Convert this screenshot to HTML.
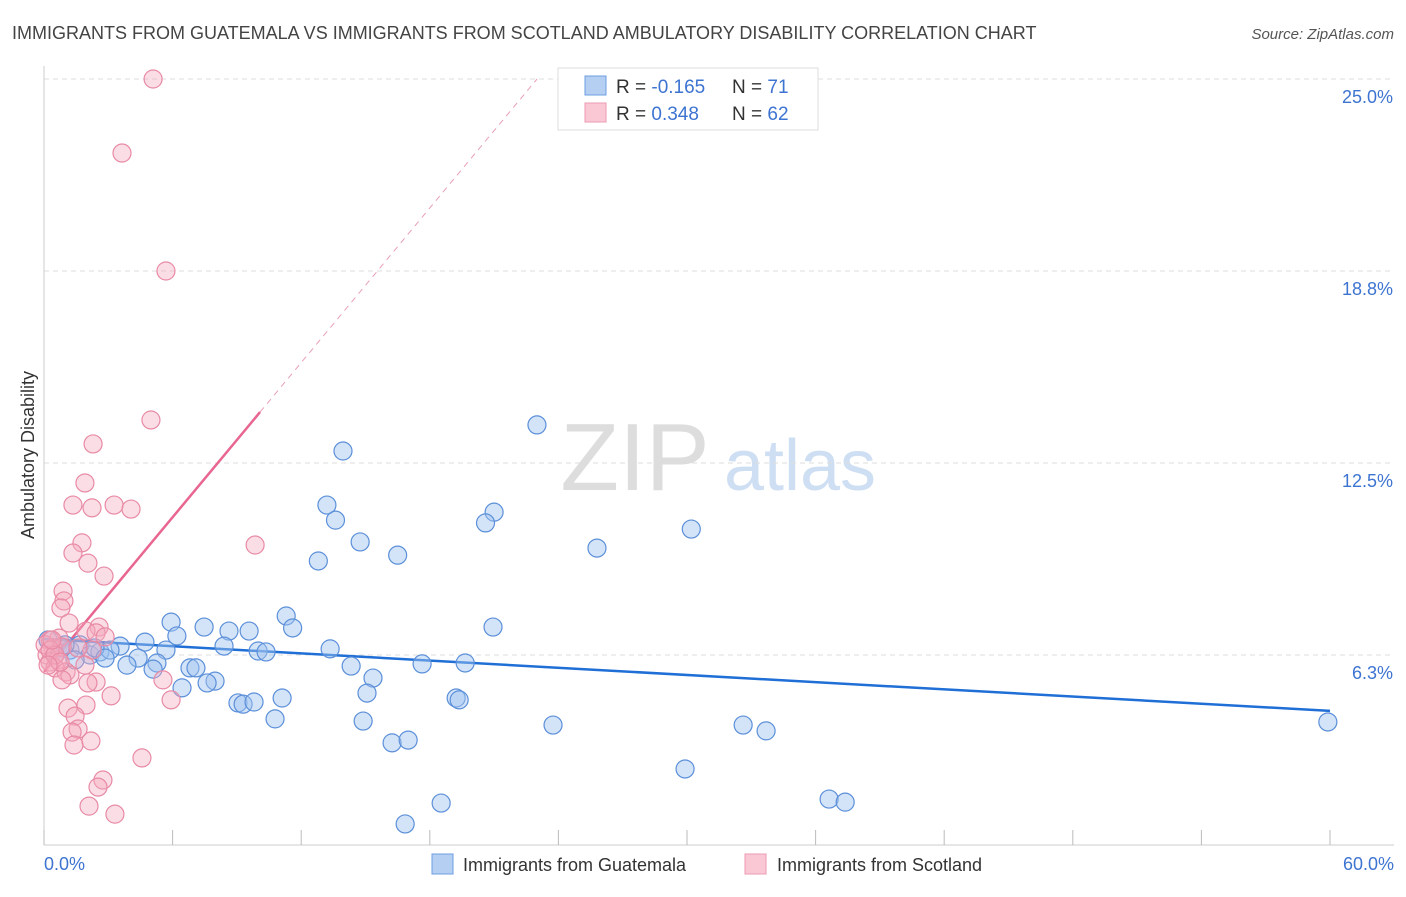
<!DOCTYPE html>
<html><head><meta charset="utf-8">
<style>
body{margin:0;background:#fff;font-family:"Liberation Sans",sans-serif;}
svg text{font-family:"Liberation Sans",sans-serif;}
</style></head>
<body>
<svg id="chart" width="1406" height="892" viewBox="0 0 1406 892">
<text x="12" y="39" font-size="18" fill="#444">IMMIGRANTS FROM GUATEMALA VS IMMIGRANTS FROM SCOTLAND AMBULATORY DISABILITY CORRELATION CHART</text>
<text x="1394" y="39" font-size="15" fill="#555" font-style="italic" text-anchor="end">Source: ZipAtlas.com</text>
<g>
<text x="635" y="490" font-size="96" fill="#ddd" font-family="Liberation Serif" text-anchor="middle">ZIP</text>
<text x="800" y="490" font-size="72" fill="#cfdff3" text-anchor="middle">atlas</text>
</g>
<text transform="translate(34,455) rotate(-90)" font-size="18" fill="#333" text-anchor="middle">Ambulatory Disability</text>
<g id="grid"></g><g id="axes"></g><g id="trends"></g><g id="pts"></g>
<g>
<rect x="558" y="68" width="260" height="62" fill="#fff" stroke="#ddd"/>
<rect x="585" y="76" width="21" height="19" fill="#b5cff3" stroke="#6d9de0"/>
<rect x="585" y="103" width="21" height="19" fill="#fac8d5" stroke="#eb9ab2"/>
<text x="616" y="93" font-size="19" fill="#333">R = <tspan fill="#3d74d1">-0.165</tspan></text>
<text x="732" y="93" font-size="19" fill="#333">N = <tspan fill="#3d74d1"> 71</tspan></text>
<text x="616" y="120" font-size="19" fill="#333">R = <tspan fill="#3d74d1"> 0.348</tspan></text>
<text x="732" y="120" font-size="19" fill="#333">N = <tspan fill="#3d74d1">62</tspan></text>
</g>
<g>
<rect x="432" y="854" width="21" height="20" fill="#b5cff3" stroke="#6d9de0"/>
<text x="463" y="871" font-size="18" fill="#333">Immigrants from Guatemala</text>
<rect x="745" y="854" width="21" height="20" fill="#fac8d5" stroke="#eb9ab2"/>
<text x="777" y="871" font-size="18" fill="#333">Immigrants from Scotland</text>
</g>
</svg>
<script>
const yTicks=[6.25,12.5,18.75,25];
const yTickLabels=["6.3%","12.5%","18.8%","25.0%"];
const xTickLabels=["0.0%","60.0%"];
const guatX=[59.9,23.0,13.95,13.2,13.6,21.0,20.6,30.2,14.75,16.5,25.8,12.8,11.3,11.6,20.95,5.93,7.47,8.63,9.57,6.2,4.71,3.55,8.4,9.99,10.36,13.35,5.69,4.39,5.27,3.87,5.09,6.81,7.09,14.33,17.64,19.65,15.35,7.98,7.61,6.44,15.07,11.11,19.23,19.37,9.05,9.29,9.8,10.78,14.89,23.75,32.62,33.69,16.24,16.99,29.91,18.53,36.63,37.38,16.85,0.75,1.21,1.68,2.15,2.61,3.08,0.51,1.45,2.38,2.85,0.98,0.19];
const guatY=[4.07,13.74,12.89,11.13,10.64,10.9,10.55,10.35,9.93,9.5,9.73,9.31,7.52,7.13,7.16,7.32,7.16,7.03,7.03,6.87,6.67,6.54,6.54,6.38,6.35,6.45,6.41,6.15,5.99,5.92,5.79,5.83,5.83,5.89,5.96,5.99,5.5,5.4,5.34,5.18,5.01,4.85,4.85,4.79,4.69,4.65,4.72,4.17,4.1,3.97,3.97,3.78,3.39,3.48,2.54,1.43,1.56,1.46,0.75,6.48,6.41,6.58,6.25,6.35,6.41,6.25,6.09,6.48,6.15,6.58,6.74];
const scotX=[5.09,3.64,5.69,4.99,2.29,1.91,1.35,2.24,3.27,4.06,9.85,1.77,1.35,2.05,2.8,0.89,0.93,0.79,1.17,2.57,1.96,2.43,0.7,0.28,0.42,0.14,0.28,0.65,0.84,0.51,1.03,1.21,0.84,2.43,2.05,2.24,2.85,5.55,5.93,3.13,1.96,1.12,1.45,1.59,1.31,1.4,2.19,2.75,2.52,2.1,3.31,4.57,0.05,0.28,0.51,0.75,0.19,0.37,1.91,1.59];
const scotY=[25.0,22.59,18.75,13.9,13.12,11.85,11.13,11.04,11.13,11.0,9.83,9.9,9.57,9.24,8.82,8.33,8.01,7.78,7.29,7.16,7.03,6.97,6.8,6.74,6.48,6.25,6.02,6.09,6.51,5.83,5.7,5.6,5.44,5.37,5.34,6.41,6.84,5.44,4.79,4.92,4.62,4.52,4.26,3.84,3.74,3.32,3.45,2.18,1.95,1.33,1.07,2.9,6.58,6.41,6.25,6.02,5.92,6.74,5.92,6.48];
const guatTrend=[6.77,-0.039]; // intercept, slope
const scotTrend=[5.70,0.839];
const scotSolidEnd=10.08;

const X0=44,X1=1330,Y0=847,PY=30.72;
const xs=v=>X0+v/60*(X1-X0);
const ys=v=>Y0-v*PY;
const NS="http://www.w3.org/2000/svg";
function mk(tag,parent,attrs){const e=document.createElementNS(NS,tag);for(const k in attrs)e.setAttribute(k,attrs[k]);document.getElementById(parent).appendChild(e);return e;}

yTicks.forEach((t,i)=>{
  const g=mk('line','grid',{x1:44,x2:1394,y1:ys(t),y2:ys(t),stroke:'#ddd','stroke-dasharray':'5,4'});
  
  
  const tx=mk('text','axes',{x:1393,y:ys(t)+24,'font-size':18,fill:'#3d74d1','text-anchor':'end'});
  tx.textContent=yTickLabels[i];
  
  
});
const ax=mk('line','axes',{x1:44,x2:44,y1:66,y2:845,stroke:'#ccc'});


const bx=mk('line','axes',{x1:44,x2:1394,y1:845,y2:845,stroke:'#ccc'});


for(let i=0;i<=10;i++){
  const t=mk('line','axes',{x1:xs(i*6),x2:xs(i*6),y1:830,y2:845,stroke:'#bbb'});
  
  
}
[[0,'start',44],[60,'end',1394]].forEach((a,i)=>{
  const tx=mk('text','axes',{x:a[2],y:870,'font-size':18,fill:'#3d74d1','text-anchor':a[1]});
  tx.textContent=xTickLabels[i];
  
  
});

guatX.forEach((x,i)=>{
  const c=mk('circle','pts',{cx:xs(x),cy:ys(guatY[i]),r:9,fill:'rgba(160,195,240,0.45)',stroke:'#5b8fd9','stroke-width':1.2});
  
  
});
scotX.forEach((x,i)=>{
  const c=mk('circle','pts',{cx:xs(x),cy:ys(scotY[i]),r:9,fill:'rgba(245,170,190,0.4)',stroke:'#e88aa5','stroke-width':1.2});
  
  
});

const gl=mk('line','trends',{x1:xs(0),y1:ys(guatTrend[0]),x2:xs(60),y2:ys(guatTrend[0]+guatTrend[1]*60),stroke:'#1f6fd6','stroke-width':2.5});


const sl=mk('line','trends',{x1:xs(0),y1:ys(scotTrend[0]),x2:xs(scotSolidEnd),y2:ys(scotTrend[0]+scotTrend[1]*scotSolidEnd),stroke:'#e8668f','stroke-width':2.5});


const xe=(25-scotTrend[0])/scotTrend[1];
const sd=mk('line','trends',{x1:xs(scotSolidEnd),y1:ys(scotTrend[0]+scotTrend[1]*scotSolidEnd),x2:xs(xe),y2:ys(25),stroke:'#e8a0b5','stroke-width':1,'stroke-dasharray':'6,5'});


</script>
</body></html>
